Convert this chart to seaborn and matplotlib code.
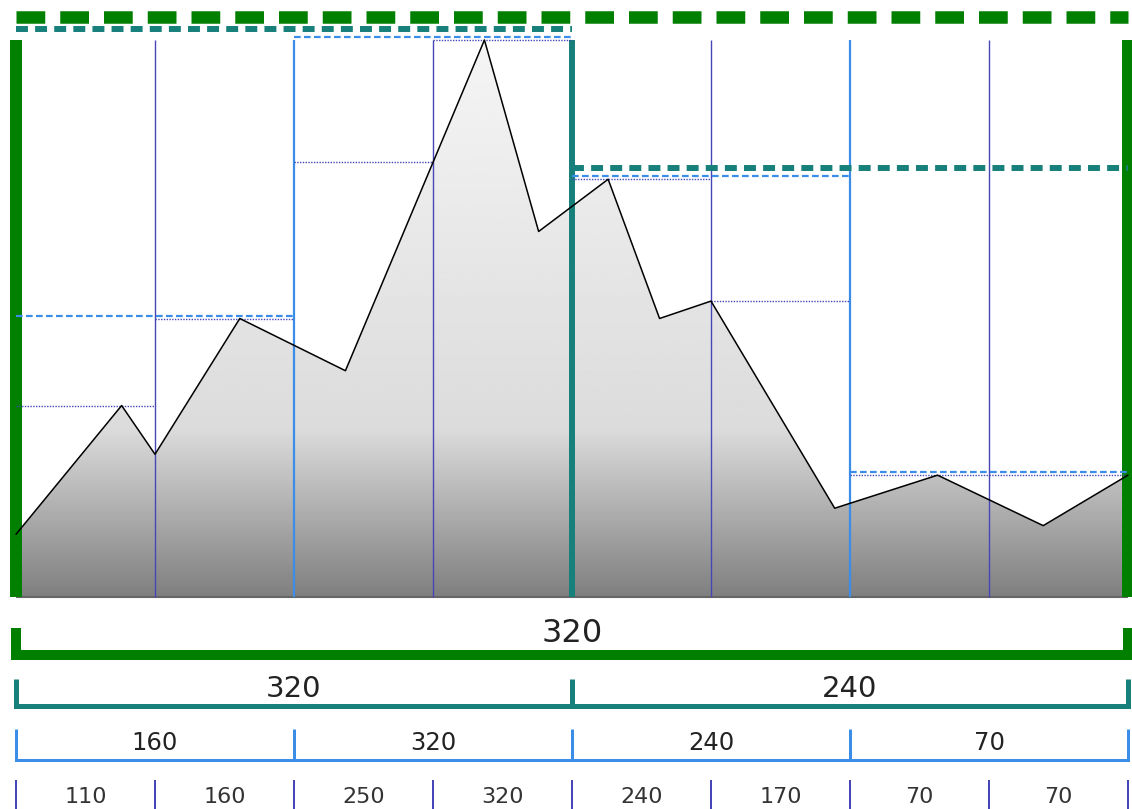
import matplotlib
matplotlib.use("Agg")
import matplotlib.pyplot as plt
from matplotlib.patches import Polygon
import numpy as np
import pandas as pd
import seaborn as sns

sns.set_style("white")
plt.rcParams["font.family"] = ["DejaVu Sans"]

# terrain profile (x in leaf units, height in same units as the maxima)
terrain_x = [0, 0.76, 1.0, 1.61, 2.37, 3.37, 3.76, 4.26, 4.63, 5.0, 5.89, 6.63, 7.39, 8.0]
terrain_y = [36, 110, 82, 160, 130, 320, 210, 240, 160, 170, 51, 70, 41, 70]

# segment tree maxima, root to leaves
level0 = [320]
level1 = [320, 240]
level2 = [160, 320, 240, 70]
leaves = [110, 160, 250, 320, 240, 170, 70, 70]

GREEN = "#007f00"
TEAL = "#17807a"
BLUE = "#3b8ee8"
PURPLE = "#4646b8"

PX = 1.740625          # pixels per height unit
n_leaf = len(leaves)
top = max(leaves)

fig = plt.figure(figsize=(11.32, 8.09), dpi=100)
ax = fig.add_axes([0, 209 / 809, 1, 600 / 809])
xlim = (-16 / 139, 1116 / 139)

# gradient fill under the profile
df = pd.DataFrame({"x": terrain_x, "h": terrain_y})
verts = list(zip(df.x, df.h)) + [(n_leaf, 0), (0, 0)]
patch = Polygon(verts, closed=True, fc="none", ec="none")
ax.add_patch(patch)
t = np.linspace(0, 1, 256).reshape(-1, 1)
grad = np.interp(t, [0, 0.3, 1], [0.5, 0.86, 0.96])
im = ax.imshow(grad, extent=[0, n_leaf, 0, top], origin="lower",
               cmap="gray", vmin=0, vmax=1, aspect="auto", zorder=1)
im.set_clip_path(patch)
ax.hlines(0, 0, n_leaf, color="#666666", lw=1.5, zorder=2)

# max lines per level: (values, color, line style, lw, offset px)
levels = [
    (leaves, PURPLE, (0, (1, 1)), 1.0, 0),
    (level2, BLUE, (0, (3, 1.5)), 1.6, 3),
    (level1, TEAL, (0, (2, 1.2)), 4.3, 11),
    (level0, GREEN, (0, (2.3, 1.2)), 9.0, 23),
]
for vals, col, ls, hlw, off in levels:
    w = n_leaf / len(vals)
    for i, v in enumerate(vals):
        ax.plot([i * w, (i + 1) * w], [v + off / PX] * 2, color=col, lw=hlw,
                ls=ls, solid_capstyle="butt", dash_capstyle="butt", zorder=3)

# vertical separators: each boundary drawn at the highest level it belongs to
for b in range(n_leaf + 1):
    if b % 8 == 0:
        col, lw = GREEN, 8.6
    elif b % 4 == 0:
        col, lw = TEAL, 4.3
    elif b % 2 == 0:
        col, lw = BLUE, 1.6
    else:
        col, lw = PURPLE, 1.0
    ax.vlines(b, 0, top, color=col, lw=lw, zorder=2.5)

sns.lineplot(data=df, x="x", y="h", ax=ax, color="black", lw=1.1, zorder=4)

ax.set_xlim(*xlim)
ax.set_ylim(-3 / PX, 597 / PX)
ax.set_axis_off()

# bracket rows below the profile (y in pixels from top)
ax2 = fig.add_axes([0, 0, 1, 209 / 809])
ax2.set_xlim(*xlim)
ax2.set_ylim(809, 600)
ax2.set_axis_off()

rows = [
    (level0, GREEN, 655, 628, 10, 23, 633, "#222222"),
    (level1, TEAL, 706, 679, 5, 21, 689, "#222222"),
    (level2, BLUE, 760, 729, 3, 17.5, 743, "#222222"),
    (leaves, PURPLE, 812, 780, 2, 16, 797, "#333333"),
]
for vals, col, ly, ty, lwpx, fs, tyy, tcol in rows:
    w = n_leaf / len(vals)
    lw = lwpx * 0.72
    ax2.plot([0, n_leaf], [ly, ly], color=col, lw=lw, solid_capstyle="projecting")
    for i in range(len(vals) + 1):
        ax2.plot([i * w, i * w], [ty, ly], color=col, lw=lw, solid_capstyle="butt")
    for i, v in enumerate(vals):
        ax2.text((i + 0.5) * w, tyy, str(v), ha="center", va="center",
                 fontsize=fs, color=tcol)

fig.savefig("out.png", dpi=100)
